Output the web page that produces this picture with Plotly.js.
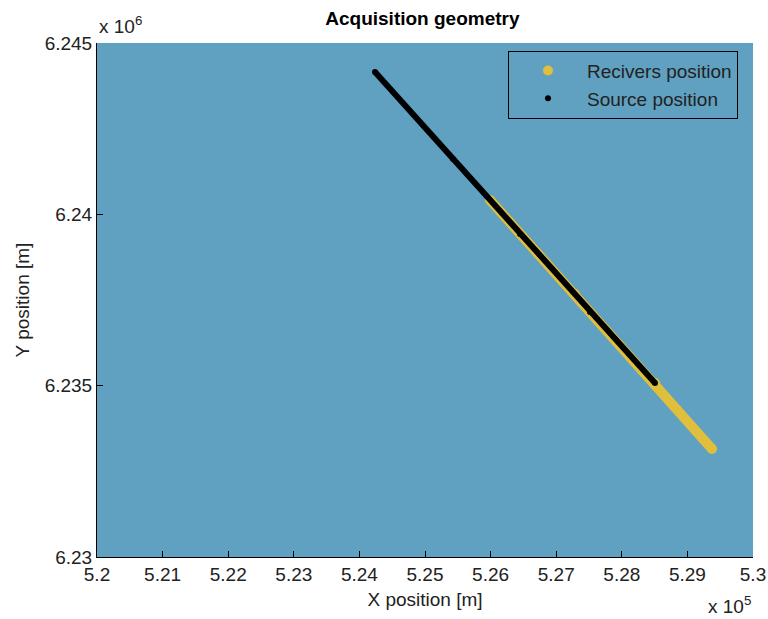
<!DOCTYPE html>
<html>
<head>
<meta charset="utf-8">
<script src="https://cdn.plot.ly/plotly-3.0.1.min.js"></script>
<style>html,body{margin:0;padding:0;background:#fff;}#chart{width:768px;height:619px;}</style>
</head>
<body>
<div id="chart"></div>
<script>
// Source positions (m)
var sourceX = [524238, 525427, 526448, 527515, 528506];
var sourceY = [6244154, 6241615, 6239426, 6237150, 6235078];
// Receiver positions (m)
var recX = [525991, 527287, 528506, 529375];
var recY = [6240418, 6237675, 6235078, 6233152];
// Tick values and labels
var xTickVals = [520000, 521000, 522000, 523000, 524000, 525000, 526000, 527000, 528000, 529000, 530000];
var xTickText = ["5.2", "5.21", "5.22", "5.23", "5.24", "5.25", "5.26", "5.27", "5.28", "5.29", "5.3"];
var yTickVals = [6230000, 6235000, 6240000, 6245000];
var yTickText = ["6.23", "6.235", "6.24", "6.245"];

var FONT = "Liberation Sans, Arial, sans-serif";
var YELLOW = "#e0bf3c";
var BLUE = "#60a0c1";
var FS = 19;

var traces = [
  {x: recX, y: recY, type: "scatter", mode: "lines", line: {color: YELLOW, width: 10}, showlegend: false, hoverinfo: "skip"},
  {x: recX, y: recY, type: "scatter", mode: "markers", name: "Recivers position", legendgroup: "a",
   marker: {color: YELLOW, size: 10}},
  {x: sourceX, y: sourceY, type: "scatter", mode: "lines", line: {color: "#000000", width: 6}, showlegend: false, hoverinfo: "skip"},
  {x: sourceX, y: sourceY, type: "scatter", mode: "markers", name: "Source position", legendgroup: "b",
   marker: {color: "#000000", size: 6}}
];

var layout = {
  width: 768, height: 619,
  margin: {l: 97, r: 15, t: 43, b: 62},
  paper_bgcolor: "#ffffff",
  plot_bgcolor: BLUE,
  font: {family: FONT, size: FS, color: "#222222"},
  title: {text: "<b>Acquisition geometry</b>", font: {family: FONT, size: FS, color: "#000"}, x: 0.55, xanchor: "center", y: 0.97, yanchor: "middle"},
  xaxis: {
    range: [520000, 530000], tickmode: "array", tickvals: xTickVals, ticktext: xTickText,
    ticks: "inside", ticklen: 6, tickcolor: "#000", tickwidth: 1,
    showline: true, linecolor: "#000", linewidth: 1, mirror: false,
    showgrid: false, zeroline: false,
    tickfont: {family: FONT, size: FS, color: "#222"},
    title: {text: "X position [m]", font: {family: FONT, size: FS, color: "#222"}, standoff: 8}
  },
  yaxis: {
    range: [6230000, 6245000], tickmode: "array", tickvals: yTickVals, ticktext: yTickText,
    ticks: "inside", ticklen: 6, tickcolor: "#000", tickwidth: 1,
    showline: true, linecolor: "#000", linewidth: 1, mirror: false,
    showgrid: false, zeroline: false,
    tickfont: {family: FONT, size: FS, color: "#222"},
    title: {text: "Y position [m]", font: {family: FONT, size: FS, color: "#222"}, standoff: 10}
  },
  legend: {
    x: 0.6265, xanchor: "left", y: 0.985, yanchor: "top",
    bgcolor: "rgba(0,0,0,0)", bordercolor: "#000", borderwidth: 1,
    itemwidth: 68, tracegroupgap: 0,
    font: {family: FONT, size: FS, color: "#222"}
  },
  annotations: [
    {xref: "paper", yref: "paper", x: 0, y: 1, xanchor: "left", yanchor: "bottom", yshift: 4,
     text: "x 10<sup>6</sup>", showarrow: false, font: {family: FONT, size: FS, color: "#222"}},
    {xref: "paper", yref: "paper", x: 1, y: 0, xanchor: "right", yanchor: "top", yshift: -34,
     text: "x 10<sup>5</sup>", showarrow: false, font: {family: FONT, size: FS, color: "#222"}}
  ],
  showlegend: true
};

Plotly.newPlot("chart", traces, layout, {displayModeBar: false, staticPlot: true});
</script>
</body>
</html>
